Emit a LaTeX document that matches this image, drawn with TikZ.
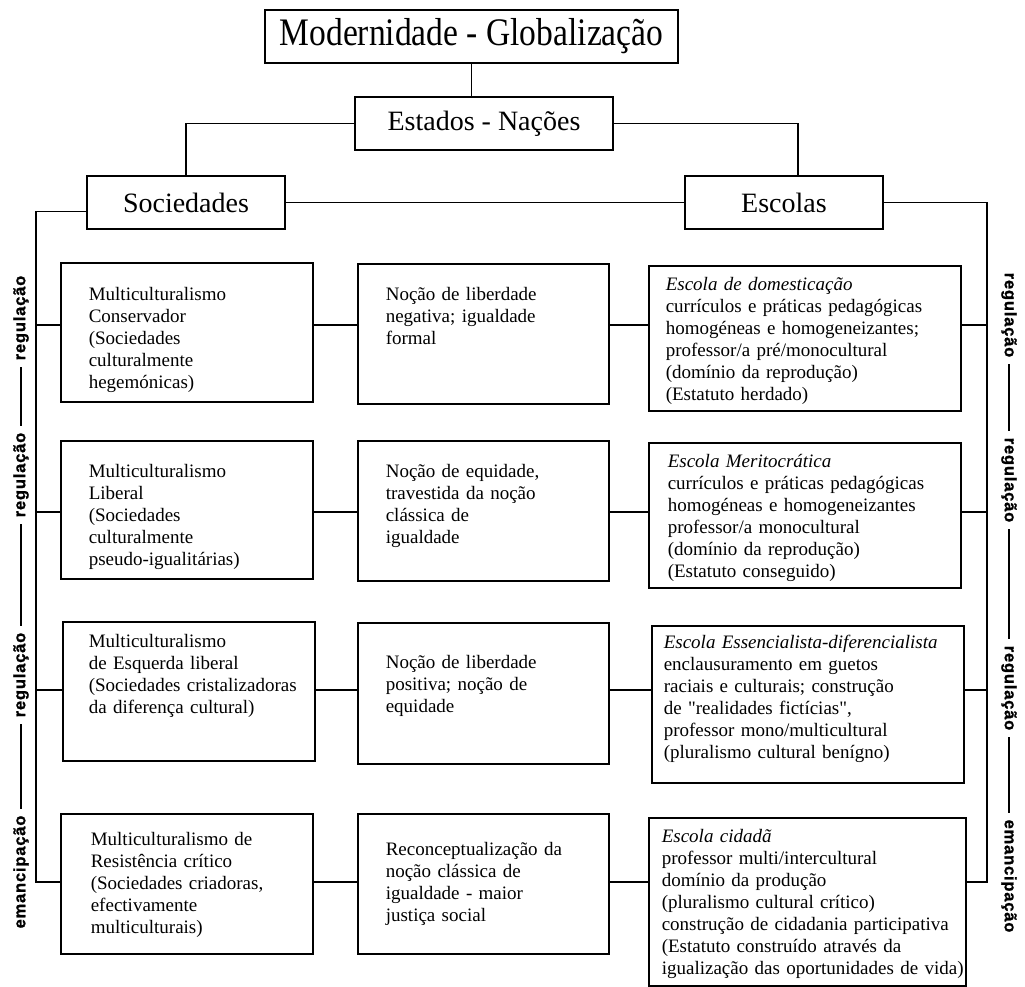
\documentclass[tikz,border=0pt]{standalone}
\usepackage{fontspec}
\setmainfont{Liberation Serif}[Ligatures=TeXOff]
\newfontfamily\titulofont{Liberation Serif}[FakeStretch=0.86]
\newfontfamily\rotulofont{Liberation Sans Bold}[LetterSpace=5, FakeBold=1.2]
\usetikzlibrary{positioning}
\newcommand{\corpo}{\fontsize{19}{22}\selectfont}

\begin{document}
\begin{tikzpicture}[x=1pt, y=-1pt, line width=1.6pt,
    caixa/.style={draw, anchor=north west, inner sep=0pt, align=left, font=\corpo},
    titulo/.style={draw, inner sep=0pt, minimum height=53pt, font=\fontsize{28}{30}\selectfont},
    eixo/.style={inner sep=0pt, font=\rotulofont\fontsize{16.5}{18}\selectfont},
    traco/.style={line width=1.8pt, shorten <=6pt, shorten >=6pt}]
    \useasboundingbox (0,0) rectangle (1025,987);
    % cabecalho
    \node[titulo, minimum width=413pt, font=\titulofont\fontsize{39}{40}\selectfont] (T) at (471.5,36.5) {Modernidade - Globalização};
    \node[titulo, minimum width=258pt] (E) at (484,123.5) {Estados - Nações};
    \node[titulo, minimum width=198pt] (S) at (186,202.5) {Sociedades};
    \node[titulo, minimum width=198pt] (Esc) at (784,202.5) {Escolas};
    \draw (T.south) -- (T.south |- E.north);
    \draw (E.west) -| (S.north);
    \draw (E.east) -| ([xshift=14pt]Esc.north);
    \draw (S.east) -- (Esc.west);
    % linha 1
    \node[caixa, text width=252pt, text height=38pt, text depth=101pt] (L1) at (60,262) {\leftskip=28pt\relax
        Multiculturalismo\\ Conservador\\ (Sociedades\\ culturalmente\\ hegemónicas)\par};
    \node[caixa, text width=251pt, text height=37pt, text depth=103pt] (M1) at (357,263) {\leftskip=28pt\relax
        Noção de liberdade\\ negativa; igualdade\\ formal\par};
    \node[caixa, text width=312pt, text height=25pt, text depth=120pt] (R1) at (648,265) {\leftskip=17pt\relax
        \textit{Escola de domesticação}\\ currículos e práticas pedagógicas\\ homogéneas e homogeneizantes;\\
        professor/a pré/monocultural\\ (domínio da reprodução)\\ (Estatuto herdado)\par};
    % linha 2
    \node[caixa, text width=252pt, text height=37pt, text depth=101pt] (L2) at (60,440) {\leftskip=28pt\relax
        Multiculturalismo\\ Liberal\\ (Sociedades\\ culturalmente\\ pseudo-igualitárias)\par};
    \node[caixa, text width=251pt, text height=37pt, text depth=103pt] (M2) at (357,440) {\leftskip=28pt\relax
        Noção de equidade,\\ travestida da noção\\ clássica de\\ igualdade\par};
    \node[caixa, text width=312pt, text height=25pt, text depth=120pt] (R2) at (648,442) {\leftskip=19pt\relax
        \textit{Escola Meritocrática}\\ currículos e práticas pedagógicas\\ homogéneas e homogeneizantes\\
        professor/a monocultural\\ (domínio da reprodução)\\ (Estatuto conseguido)\par};
    % linha 3
    \node[caixa, text width=252pt, text height=26pt, text depth=113pt] (L3) at (62,621) {\leftskip=26pt\relax
        Multiculturalismo\\ de Esquerda liberal\\ (Sociedades cristalizadoras\\ da diferença cultural)\par};
    \node[caixa, text width=251pt, text height=46pt, text depth=95pt] (M3) at (357,622) {\leftskip=28pt\relax
        Noção de liberdade\\ positiva; noção de\\ equidade\par};
    \node[caixa, text width=312pt, text height=23pt, text depth=134pt] (R3) at (651,625) {\leftskip=12pt\relax
        \textit{Escola Essencialista-diferencialista}\\ enclausuramento em guetos\\ raciais e culturais; construção\\
        de "realidades fictícias",\\ professor mono/multicultural\\ (pluralismo cultural benígno)\par};
    % linha 4
    \node[caixa, text width=252pt, text height=32pt, text depth=108pt] (L4) at (60,813) {\leftskip=30pt\relax
        Multiculturalismo de\\ Resistência crítico\\ (Sociedades criadoras,\\ efectivamente\\ multiculturais)\par};
    \node[caixa, text width=251pt, text height=42pt, text depth=98pt] (M4) at (357,813) {\leftskip=28pt\relax
        Reconceptualização da\\ noção clássica de\\ igualdade - maior\\ justiça social\par};
    \node[caixa, text width=317pt, text height=25pt, text depth=143pt] (R4) at (648,817) {\leftskip=13pt\relax
        \textit{Escola cidadã}\\ professor multi/intercultural\\ domínio da produção\\ (pluralismo cultural crítico)\\
        construção de cidadania participativa\\ (Estatuto construído através da\\
        \mbox{igualização das oportunidades de vida)}\par};
    % eixos e ligacoes das linhas
    \coordinate (eixoE) at (36,0);
    \coordinate (eixoD) at (987,0);
    \coordinate (c1) at (0,325);
    \coordinate (c2) at (0,512);
    \coordinate (c3) at (0,690);
    \coordinate (c4) at (0,882);
    \draw ([yshift=-9pt]S.west) -| (c4 -| eixoE) -- (c4 -| L4.west);
    \draw (Esc.east) -| (c4 -| eixoD) -- (c4 -| R4.east);
    \foreach \i in {1,...,4} {
        \draw (c\i -| eixoE) -- (c\i -| L\i.west);
        \draw (c\i -| L\i.east) -- (c\i -| M\i.west);
        \draw (c\i -| M\i.east) -- (c\i -| R\i.west);
        \draw (c\i -| R\i.east) -- (c\i -| eixoD);
    }
    % rotulos laterais
    \node[eixo, rotate=90] (eE1) at (21,318) {regulação};
    \node[eixo, rotate=90] (eE2) at (21,475) {regulação};
    \node[eixo, rotate=90] (eE3) at (21,675) {regulação};
    \node[eixo, rotate=90] (eE4) at (21,872) {emancipação};
    \draw[traco] (eE4.east) -- (eE3.west);
    \draw[traco] (eE3.east) -- (eE2.west);
    \draw[traco] (eE2.east) -- (eE1.west);
    \node[eixo, rotate=-90] (eD1) at (1009,315) {regulação};
    \node[eixo, rotate=-90] (eD2) at (1009,480) {regulação};
    \node[eixo, rotate=-90] (eD3) at (1009,688) {regulação};
    \node[eixo, rotate=-90] (eD4) at (1009,876) {emancipação};
    \draw[traco] (eD1.east) -- (eD2.west);
    \draw[traco] (eD2.east) -- (eD3.west);
    \draw[traco] (eD3.east) -- (eD4.west);
\end{tikzpicture}
\end{document}
